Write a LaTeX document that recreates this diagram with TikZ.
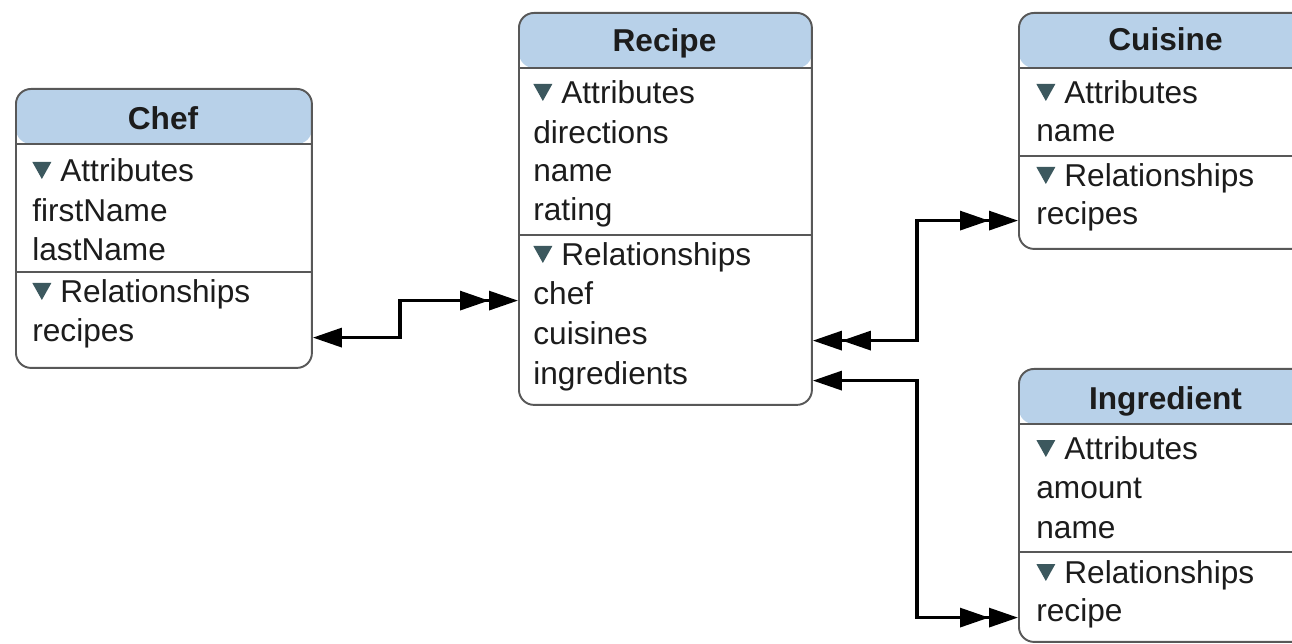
\documentclass[tikz,border=0pt]{standalone}
\usepackage{fontspec}
\setmainfont{Liberation Sans}
\usetikzlibrary{arrows.meta, calc}

\definecolor{headblue}{RGB}{184,209,233}
\definecolor{boxgray}{RGB}{88,88,88}
\definecolor{tricolor}{RGB}{60,88,94}
\definecolor{inkgray}{RGB}{28,28,28}

% small disclosure triangle in front of a section name
\newcommand{\opener}{\tikz[baseline=0pt, x=1cm, y=1cm]\fill[tricolor] (0,0.4) -- (0.38,0.4) -- (0.19,0.06) -- cycle;\hspace{0.18cm}}

\tikzset{
    entity/.style={draw=boxgray, line width=1.1pt, rounded corners=0.3cm, fill=white, anchor=north west, inner sep=0pt,
        path picture={
            \fill[headblue] (path picture bounding box.north west) rectangle ([yshift=-1.1cm]path picture bounding box.north east);
            \draw[boxgray, line width=1.1pt] ([yshift=-1.1cm]path picture bounding box.north west) -- ([yshift=-1.1cm]path picture bounding box.north east);
        }},
    title/.style={anchor=base, inner sep=0pt, text=inkgray, font=\fontsize{18}{22}\selectfont\bfseries},
    row/.style={anchor=base west, inner sep=0pt, text height=0.5em, text depth=0pt, text=inkgray, font=\fontsize{18}{22}\selectfont},
    divider/.style={draw=boxgray, line width=1.1pt},
    link/.style={draw=black, line width=1.8pt},
    erone/.tip={Triangle[length=0.58cm, width=0.38cm]},
    ertwo/.tip={Triangle[length=0.58cm, width=0.38cm] Triangle[length=0.58cm, width=0.38cm]}
}

\begin{document}
\begin{tikzpicture}[x=0.02cm, y=-0.02cm]
        \clip (0,0) rectangle (1292,644);
        \fill[white] (0,0) rectangle (1292,644);

        % Chef
        \node[entity, minimum width=5.92cm, minimum height=5.58cm] (chef) at (15,88) {};
        \node[title] (chef-title) at (163,130) {Chef};
        \node[row] (chef-attr) at (32,182) {\opener Attributes};
        \node[row] (chef-first) at (32,222) {firstName};
        \node[row] (chef-last) at (32,261) {lastName};
        \draw[divider] (15,272) -- (311,272);
        \node[row] (chef-rel) at (32,303) {\opener Relationships};
        \node[row] (chef-recipes) at (32,342) {recipes};

        % Recipe
        \node[entity, minimum width=5.86cm, minimum height=7.84cm] (recipe) at (518,12) {};
        \node[title] (recipe-title) at (664.5,52) {Recipe};
        \node[row] (recipe-attr) at (533,104) {\opener Attributes};
        \node[row] (recipe-directions) at (533,144) {directions};
        \node[row] (recipe-name) at (533,182) {name};
        \node[row] (recipe-rating) at (533,221) {rating};
        \draw[divider] (518,235) -- (811,235);
        \node[row] (recipe-rel) at (533,266) {\opener Relationships};
        \node[row] (recipe-chef) at (533,305) {chef};
        \node[row] (recipe-cuisines) at (533,345) {cuisines};
        \node[row] (recipe-ingredients) at (533,385) {ingredients};

        % Cuisine
        \node[entity, minimum width=5.9cm, minimum height=4.72cm] (cuisine) at (1018,12) {};
        \node[title] (cuisine-title) at (1165.5,51) {Cuisine};
        \node[row] (cuisine-attr) at (1036,104) {\opener Attributes};
        \node[row] (cuisine-name) at (1036,142) {name};
        \draw[divider] (1018,156) -- (1313,156);
        \node[row] (cuisine-rel) at (1036,187) {\opener Relationships};
        \node[row] (cuisine-recipes) at (1036,225) {recipes};

        % Ingredient
        \node[entity, minimum width=5.9cm, minimum height=5.46cm] (ingredient) at (1018,368) {};
        \node[title] (ingredient-title) at (1165.5,410) {Ingredient};
        \node[row] (ingredient-attr) at (1036,460) {\opener Attributes};
        \node[row] (ingredient-amount) at (1036,499) {amount};
        \node[row] (ingredient-name) at (1036,539) {name};
        \draw[divider] (1018,552) -- (1313,552);
        \node[row] (ingredient-rel) at (1036,584) {\opener Relationships};
        \node[row] (ingredient-recipe) at (1036,622) {recipe};

        % relationship lines
        \coordinate (chefbend) at (400,0);
        \coordinate (bus) at (917,0);
        \draw[link, {erone}-{ertwo}] (chef.east |- chef-recipes) -- (chefbend |- chef-recipes) -- (chefbend |- recipe-chef) -- (recipe.west |- recipe-chef);
        \draw[link, {ertwo}-{ertwo}] (recipe.east |- recipe-cuisines) -- (bus |- recipe-cuisines) -- (bus |- cuisine-recipes) -- (cuisine.west |- cuisine-recipes);
        \draw[link, {erone}-{ertwo}] (recipe.east |- recipe-ingredients) -- (bus |- recipe-ingredients) -- (bus |- ingredient-recipe) -- (ingredient.west |- ingredient-recipe);
    \end{tikzpicture}
\end{document}
